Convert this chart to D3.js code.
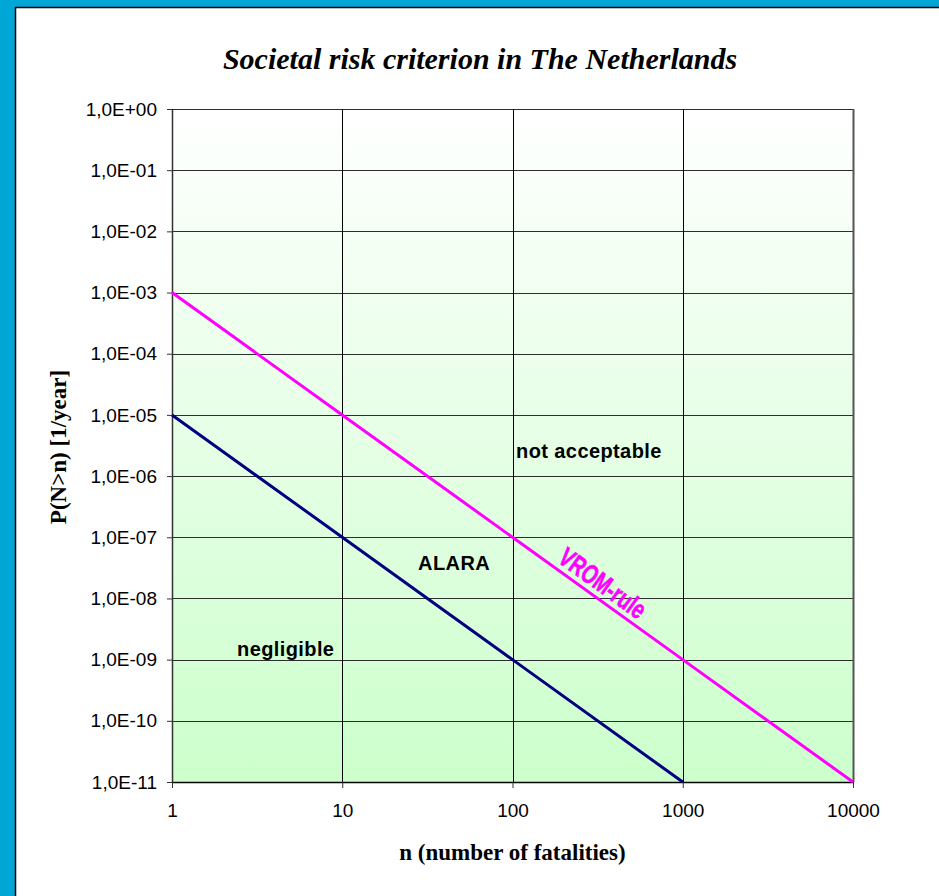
<!DOCTYPE html>
<html>
<head>
<meta charset="utf-8">
<script src="https://cdn.jsdelivr.net/npm/d3@7/dist/d3.min.js"></script>
<style>
  html, body { margin: 0; padding: 0; background: #00A6D6; overflow: hidden; }
  svg { display: block; }
</style>
</head>
<body>
<svg id="chart" width="939" height="896"></svg>
<script>
// F-N curve limits (probability of N or more fatalities per year)
const fatalities      = [1, 10, 100, 1000, 10000];
const vromRule        = [1e-3, 1e-5, 1e-7, 1e-9, 1e-11];
const negligibleN     = [1, 10, 100, 1000];
const negligibleLimit = [1e-5, 1e-7, 1e-9, 1e-11];

const xTickValues = [1, 10, 100, 1000, 10000];
const xTickLabels = ["1", "10", "100", "1000", "10000"];
const yTickValues = [1e0, 1e-1, 1e-2, 1e-3, 1e-4, 1e-5, 1e-6, 1e-7, 1e-8, 1e-9, 1e-10, 1e-11];
const yTickLabels = ["1,0E+00", "1,0E-01", "1,0E-02", "1,0E-03", "1,0E-04", "1,0E-05",
                     "1,0E-06", "1,0E-07", "1,0E-08", "1,0E-09", "1,0E-10", "1,0E-11"];

const regionNames = ["not acceptable", "ALARA", "negligible"];
const regionN     = [105, 27.9, 2.41];
const regionP     = [2.0e-6, 2.9e-8, 1.15e-9];

const titleText  = "Societal risk criterion in The Netherlands";
const xTitleText = "n (number of fatalities)";
const yTitleText = "P(N>n) [1/year]";
const ruleLabel  = "VROM-rule";

// ---- layout ----
const W = 939, H = 896;
const plot = { left: 172, top: 109, right: 853, bottom: 782 };

const svg = d3.select("#chart");

// outer frame
svg.append("rect").attr("x", 0).attr("y", 0).attr("width", W).attr("height", H).attr("fill", "#00A6D6");
svg.append("rect").attr("x", 15.5).attr("y", 7.5).attr("width", W + 10).attr("height", H + 10)
  .attr("fill", "#ffffff").attr("stroke", "#000").attr("stroke-width", 1.5);

const x = d3.scaleLog().domain([1, 10000]).range([plot.left, plot.right]);
const y = d3.scaleLog().domain([1e-11, 1]).range([plot.bottom, plot.top]);

// background gradient
const defs = svg.append("defs");
const grad = defs.append("linearGradient").attr("id", "bg").attr("x1", 0).attr("y1", 0).attr("x2", 0).attr("y2", 1);
grad.append("stop").attr("offset", "0%").attr("stop-color", "#ffffff");
grad.append("stop").attr("offset", "100%").attr("stop-color", "#CCFFCC");

svg.append("rect")
  .attr("x", plot.left).attr("y", plot.top)
  .attr("width", plot.right - plot.left).attr("height", plot.bottom - plot.top)
  .attr("fill", "url(#bg)");

// grid
svg.append("g").selectAll("line").data(yTickValues).join("line")
  .attr("x1", plot.left).attr("x2", plot.right)
  .attr("y1", d => Math.round(y(d)) + 0.5).attr("y2", d => Math.round(y(d)) + 0.5)
  .attr("stroke", "#2e2e2e").attr("stroke-width", 1.2);
svg.append("g").selectAll("line").data(xTickValues).join("line")
  .attr("y1", plot.top).attr("y2", plot.bottom)
  .attr("x1", d => Math.round(x(d)) + 0.5).attr("x2", d => Math.round(x(d)) + 0.5)
  .attr("stroke", "#000").attr("stroke-width", 1);

// plot border (right side)
svg.append("line")
  .attr("x1", plot.right + 0.5).attr("x2", plot.right + 0.5)
  .attr("y1", plot.top).attr("y2", plot.bottom)
  .attr("stroke", "#555").attr("stroke-width", 2);

// axes
const yAxis = d3.axisLeft(y).tickValues(yTickValues)
  .tickFormat((d, i) => yTickLabels[i]).tickSizeInner(5).tickSizeOuter(0).tickPadding(10);
const gy = svg.append("g").attr("transform", `translate(${plot.left},0)`).call(yAxis);
gy.select(".domain").attr("stroke", "#333").attr("stroke-width", 1.5);
gy.selectAll(".tick line").attr("stroke", "#333");
gy.selectAll(".tick text")
  .attr("font-family", "Liberation Sans, Arial, sans-serif")
  .attr("font-size", 19).attr("fill", "#000");

const xAxis = d3.axisBottom(x).tickValues(xTickValues)
  .tickFormat((d, i) => xTickLabels[i]).tickSizeInner(6).tickSizeOuter(0).tickPadding(16);
const gx = svg.append("g").attr("transform", `translate(0,${plot.bottom})`).call(xAxis);
gx.select(".domain").attr("stroke", "#000").attr("stroke-width", 1.5);
gx.selectAll(".tick line").attr("stroke", "#333");
gx.selectAll(".tick text")
  .attr("font-family", "Liberation Sans, Arial, sans-serif")
  .attr("font-size", 19).attr("fill", "#000");

// limit lines
const line = d3.line().x(d => x(d[0])).y(d => y(d[1]));
svg.append("path")
  .datum(negligibleN.map((n, i) => [n, negligibleLimit[i]]))
  .attr("d", line).attr("fill", "none")
  .attr("stroke", "#000080").attr("stroke-width", 3);
svg.append("path")
  .datum(fatalities.map((n, i) => [n, vromRule[i]]))
  .attr("d", line).attr("fill", "none")
  .attr("stroke", "#FF00FF").attr("stroke-width", 3);

// line label, rotated along the VROM line
const nA = fatalities[0], nB = fatalities[fatalities.length - 1];
const angle = Math.atan2(y(vromRule[vromRule.length - 1]) - y(vromRule[0]), x(nB) - x(nA)) * 180 / Math.PI;
const labelN = 300;
const labelP = vromRule[0] / Math.pow(labelN, 2);
svg.append("g")
  .attr("transform", `translate(${x(labelN)},${y(labelP)}) rotate(${angle})`)
  .append("text")
  .attr("transform", "translate(0,-6) scale(0.72,1)")
  .attr("text-anchor", "middle")
  .attr("font-family", "Liberation Sans, Arial, sans-serif")
  .attr("font-weight", "bold").attr("font-size", 27)
  .attr("fill", "#FF00FF")
  .attr("stroke", "#FF00FF").attr("stroke-width", 0.6)
  .text(ruleLabel);

// region labels
svg.append("g").selectAll("text").data(regionNames).join("text")
  .attr("x", (d, i) => x(regionN[i]))
  .attr("y", (d, i) => y(regionP[i]))
  .attr("font-family", "Liberation Sans, Arial, sans-serif")
  .attr("font-weight", "bold").attr("font-size", 20)
  .attr("letter-spacing", 0.4)
  .attr("fill", "#000")
  .text(d => d);

// titles
svg.append("text")
  .attr("x", 480).attr("y", 69)
  .attr("text-anchor", "middle")
  .attr("font-family", "Liberation Serif, Times New Roman, serif")
  .attr("font-weight", "bold").attr("font-style", "italic").attr("font-size", 30)
  .text(titleText);

svg.append("text")
  .attr("x", (plot.left + plot.right) / 2).attr("y", 860)
  .attr("text-anchor", "middle")
  .attr("font-family", "Liberation Serif, Times New Roman, serif")
  .attr("font-weight", "bold").attr("font-size", 23)
  .text(xTitleText);

svg.append("text")
  .attr("transform", `translate(66,447) rotate(-90)`)
  .attr("text-anchor", "middle")
  .attr("font-family", "Liberation Serif, Times New Roman, serif")
  .attr("font-weight", "bold").attr("font-size", 23)
  .text(yTitleText);
</script>
</body>
</html>
